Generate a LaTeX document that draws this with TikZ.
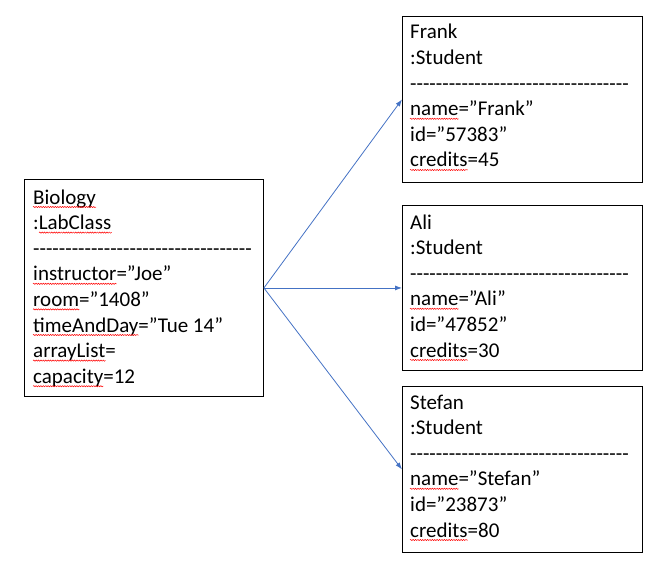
\documentclass[tikz,border=0pt]{standalone}
\usepackage{fontspec}
\setmainfont{Carlito}
\usetikzlibrary{arrows.meta,decorations.pathmorphing}
\definecolor{arrowblue}{HTML}{4472C4}
\newcommand\objfont{\fontsize{21}{25.6}\selectfont}
\ExplSyntaxOn
\newcommand\dashrow{\prg_replicate:nn{34}{\hbox{-}}}
\ExplSyntaxOff
% #1 name, #2 start coordinate (baseline), #3 underlined word
\newcommand\squig[3]{%
  \node[objtext] (#1) at #2 {\phantom{#3}};
  \draw[squiggle] ([yshift=-3pt]#1.base west) -- ([yshift=-3pt]#1.base east);}
\tikzset{
  objbox/.style={draw=black, line width=0.9pt, anchor=north west, inner sep=0pt},
  objtext/.style={anchor=base west, align=left, inner sep=0pt, font=\objfont},
  link/.style={draw=arrowblue, line width=0.8pt, -{Latex[length=7pt,width=5pt]}},
  squiggle/.style={draw=red, line width=0.5pt, decorate, decoration={snake, amplitude=0.6pt, segment length=2.4pt}}
}
\begin{document}
\begin{tikzpicture}[x=1pt,y=-1pt]
\useasboundingbox (0,0) rectangle (671,564);
\node[objbox, minimum width=239pt, minimum height=217pt] (bio) at (24,179) {};
\node[objbox, minimum width=240pt, minimum height=166pt] (frank) at (402,16) {};
\node[objbox, minimum width=240pt, minimum height=165pt] (ali) at (402,205) {};
\node[objbox, minimum width=240pt, minimum height=166pt] (stefan) at (402,386) {};

% anchored at the baseline of the last line
\node[objtext] (biotxt) at (33,383.2) {Biology\\:LabClass\\\dashrow\\instructor=”Joe”\\room=”1408”\\timeAndDay=”Tue 14”\\arrayList=\\capacity=12};
\node[objtext] (franktxt) at (410,167) {Frank\\:Student\\\dashrow\\name=”Frank”\\id=”57383”\\credits=45};
\node[objtext] (alitxt) at (410,357) {Ali\\:Student\\\dashrow\\name=”Ali”\\id=”47852”\\credits=30};
\node[objtext] (stefantxt) at (410,537) {Stefan\\:Student\\\dashrow\\name=”Stefan”\\id=”23873”\\credits=80};

% spell-check underlines
\node[objtext] (colon) at (33,229.6) {\phantom{:}};
\squig{sqA}{(33,204)}{Biology}
\squig{sqB}{(colon.base east)}{LabClass}
\squig{sqC}{(33,280.8)}{instructor}
\squig{sqD}{(33,306.4)}{room}
\squig{sqE}{(33,332)}{timeAndDay}
\squig{sqF}{(33,357.6)}{arrayList}
\squig{sqG}{(33,383.2)}{capacity}
\squig{sqH}{(410,115.8)}{name}
\squig{sqI}{(410,167)}{credits}
\squig{sqJ}{(410,305.8)}{name}
\squig{sqK}{(410,357)}{credits}
\squig{sqL}{(410,485.8)}{name}
\squig{sqM}{(410,537)}{credits}

\draw[link] (bio.east) -- (frank.west);
\draw[link] (bio.east) -- (ali.west);
\draw[link] (bio.east) -- (stefan.west);
\end{tikzpicture}
\end{document}
